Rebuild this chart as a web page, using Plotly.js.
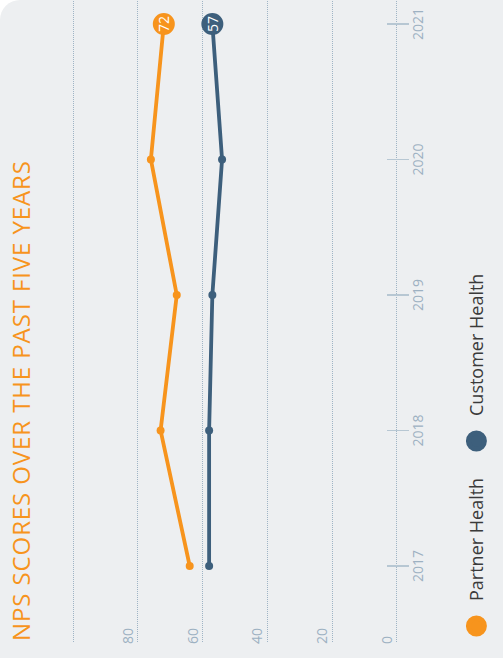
<!DOCTYPE html>
<html><head><meta charset="utf-8">
<script src="https://cdn.plot.ly/plotly-3.0.1.min.js"></script>
<style>
html,body{margin:0;padding:0;background:#fff;width:503px;height:668px;overflow:hidden;}
#wrap{position:absolute;left:0;top:0;width:668px;height:503px;transform-origin:0 0;transform:translate(0,668px) rotate(-90deg);}
#card{position:absolute;left:10px;top:0;width:658px;height:503px;background:#EDEFF1;border-top-right-radius:20px;}
#chart{position:absolute;left:0;top:0;width:668px;height:503px;}
#chart .gtitle{letter-spacing:0.9px;}
</style></head><body>
<div id="wrap"><div id="card"></div><div id="chart"></div></div>
<script>
const years = [2017, 2018, 2019, 2020, 2021];
const partnerHealth = [64, 73, 68, 76, 72];
const customerHealth = [58, 58, 57, 54, 57];
const seriesNames = ['Partner Health', 'Customer Health'];
const valueTicks = [0, 20, 40, 60, 80, 100];
const valueTickLabels = ['0', '20', '40', '60', '80', ''];
const titleText = 'NPS SCORES OVER THE PAST FIVE YEARS';

const ORANGE = '#F7941D', BLUE = '#3D5F7C';
const FONT = 'Open Sans, sans-serif';
const series = [
  {name: seriesNames[0], values: partnerHealth, color: ORANGE, lw: 130},
  {name: seriesNames[1], values: customerHealth, color: BLUE, lw: 170}
];
const last = years.length - 1;

const traces = [];
series.forEach(s => {
  traces.push({
    type: 'scatter', mode: 'lines+markers', x: years, y: s.values,
    line: {color: s.color, width: 3.8}, marker: {color: s.color, size: 8},
    showlegend: false, hoverinfo: 'skip', legendgroup: s.name
  });
});
series.forEach(s => {
  traces.push({
    type: 'scatter', mode: 'markers', x: [years[last]], y: [s.values[last]],
    name: s.name, legendgroup: s.name, legendwidth: s.lw,
    marker: {color: s.color, size: 17, line: {color: s.color, width: 5}},
    hoverinfo: 'skip'
  });
});

const annotations = series.map(s => ({
  x: years[last], y: s.values[last], xref: 'x', yref: 'y',
  text: String(s.values[last]), showarrow: false,
  font: {family: FONT, size: 14, color: '#ffffff'}
}));

const layout = {
  width: 668, height: 503,
  margin: {l: 26, r: 0, t: 70.07, b: 103.07, pad: 0},
  paper_bgcolor: 'rgba(0,0,0,0)', plot_bgcolor: 'rgba(0,0,0,0)',
  font: {family: FONT},
  title: {text: titleText, xref: 'container', yref: 'container', x: 27/668, xanchor: 'left',
    y: 1 - 21.5/503, yanchor: 'middle', font: {family: FONT, size: 24, color: ORANGE}},
  xaxis: {range: [2016.439, 2021.177], tickvals: years, ticktext: years.map(String),
    anchor: 'free', position: 0.04314,
    ticks: 'outside', ticklen: 22, tickcolor: '#B7C7D3', tickwidth: 1.2,
    ticklabelstandoff: -3,
    showgrid: false, zeroline: false, showline: false,
    tickfont: {family: FONT, size: 14, color: '#9DB1C2'}},
  yaxis: {range: [-1, 101], tickvals: valueTicks, ticktext: valueTickLabels,
    showgrid: true, gridcolor: '#9FB4C5', griddash: '1px,1px', gridwidth: 1,
    zeroline: false, showline: false, ticks: '',
    ticklabelposition: 'inside top', ticklabelstandoff: -5,
    tickfont: {family: FONT, size: 14, color: '#9DB1C2'}},
  legend: {orientation: 'h', xref: 'container', yref: 'container', x: 17/668, xanchor: 'left',
    y: 1 - 476.7/503, yanchor: 'middle', itemwidth: 40,
    font: {family: FONT, size: 18, color: '#3A3A3A'}, bgcolor: 'rgba(0,0,0,0)'},
  annotations: annotations,
  showlegend: true
};

Plotly.newPlot('chart', traces, layout, {staticPlot: true, displayModeBar: false});
</script>
</body></html>
